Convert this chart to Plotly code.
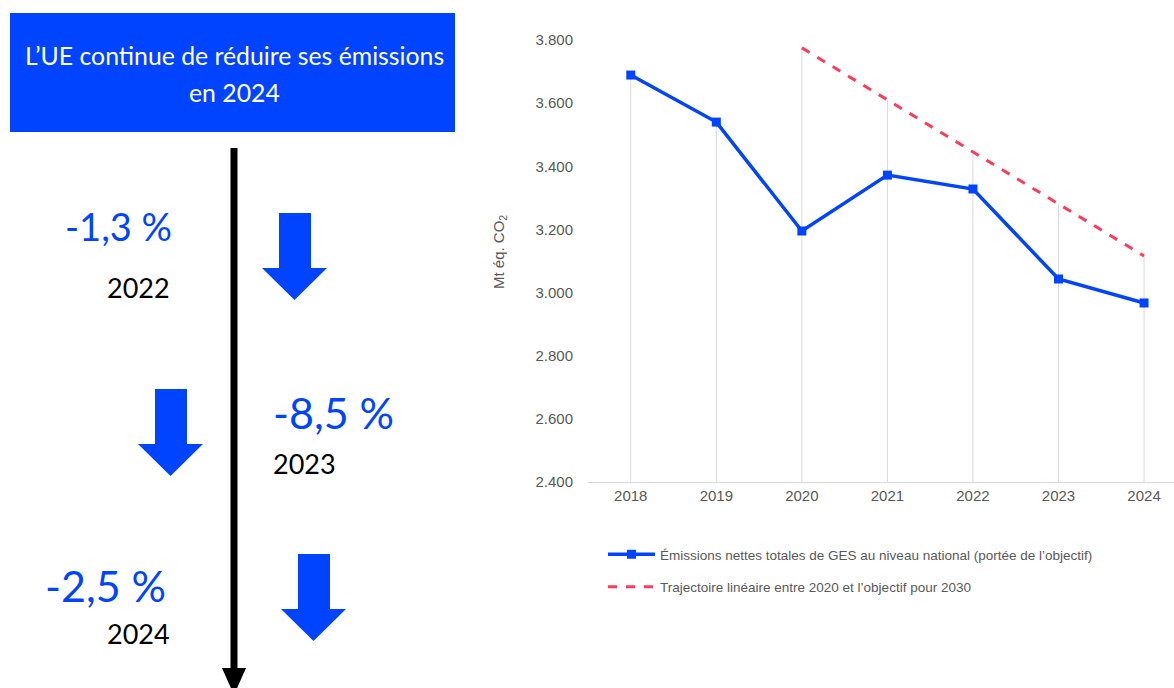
import plotly.graph_objects as go

# ---- data ----
years = ["2018", "2019", "2020", "2021", "2022", "2023", "2024"]
emissions = [3689, 3540, 3195, 3372, 3328, 3043, 2967]
trajectory_years = ["2020", "2021", "2022", "2023", "2024"]
trajectory = [3775, 3610, 3446, 3281, 3116]
y_ticks = [2400, 2600, 2800, 3000, 3200, 3400, 3600, 3800]
y_tick_labels = ["2.400", "2.600", "2.800", "3.000", "3.200", "3.400", "3.600", "3.800"]
pct_labels = ["-1,3 %", "-8,5 %", "-2,5 %"]
pct_years = ["2022", "2023", "2024"]
title_lines = ["L’UE continue de réduire ses émissions", "en 2024"]
name_emissions = "Émissions nettes totales de GES au niveau national (portée de l’objectif)"
name_traj = "Trajectoire linéaire entre 2020 et l’objectif pour 2030"
y_title = "Mt éq. CO<sub>2</sub>"

W, H = 1174, 688
BLUE = "#0044FF"


def px(x):
    return x / W


def py(y):
    return 1 - y / H


fig = go.Figure()

# drop lines from axis to highest series value per year
traj_map = dict(zip(trajectory_years, trajectory))
dx, dy = [], []
for yr, v in zip(years, emissions):
    top = max(v, traj_map.get(yr, v))
    dx += [yr, yr, None]
    dy += [y_ticks[0], top, None]
fig.add_trace(go.Scatter(x=dx, y=dy, mode="lines", line=dict(color="#d9d9d9", width=1),
                         showlegend=False, hoverinfo="skip"))

fig.add_trace(go.Scatter(x=years, y=emissions, mode="lines+markers", name=name_emissions,
                         legendgroup="a",
                         line=dict(color=BLUE, width=3.5),
                         marker=dict(symbol="square", size=9, color=BLUE)))
fig.add_trace(go.Scatter(x=trajectory_years, y=trajectory, mode="lines", name=name_traj,
                         legendgroup="b",
                         line=dict(color="#FF3B5C", width=3, dash="dash")))

shapes = []
annotations = []

# title box
shapes.append(dict(type="rect", xref="paper", yref="paper", x0=px(10), x1=px(455), y0=py(132), y1=py(13),
                   fillcolor=BLUE, line=dict(width=0), layer="below"))
for line_txt, yy in zip(title_lines, [55, 92]):
    annotations.append(dict(xref="paper", yref="paper", x=px(234), y=py(yy), text=line_txt, showarrow=False,
                            font=dict(family="Lato", size=24.8, color="white"), align="center",
                            xanchor="center", yanchor="middle"))

# black timeline arrow
shapes.append(dict(type="line", xref="paper", yref="paper", x0=px(234), x1=px(234), y0=py(148), y1=py(672),
                   line=dict(color="black", width=7)))
shapes.append(dict(type="path", xref="paper", yref="paper",
                   path=f"M {px(222)} {py(668)} L {px(246)} {py(668)} L {px(234)} {py(695)} Z",
                   fillcolor="black", line=dict(width=0)))


def block_arrow(x_left, y_top):
    # shaft 32 wide, head 65 wide, total height 87
    sx0, sx1 = x_left + 17, x_left + 49
    hx0, hx1 = x_left, x_left + 65
    ys, yt = y_top + 55, y_top + 87
    cx = x_left + 32.5
    pts = [(sx0, y_top), (sx1, y_top), (sx1, ys), (hx1, ys), (cx, yt), (hx0, ys), (sx0, ys)]
    p = "M " + " L ".join(f"{px(a)} {py(b)}" for a, b in pts) + " Z"
    return dict(type="path", xref="paper", yref="paper", path=p, fillcolor=BLUE, line=dict(width=0))


shapes.append(block_arrow(262, 213))
shapes.append(block_arrow(138, 389))
shapes.append(block_arrow(281, 554))

# percentage labels
pct_pos = [(174, 226, "right", 38), (271, 413, "left", 43), (168, 585, "right", 43)]
yr_pos = [(172, 287, "right"), (271, 463, "left"), (172, 633, "right")]
for lab, (x, y, anc, sz) in zip(pct_labels, pct_pos):
    annotations.append(dict(xref="paper", yref="paper", x=px(x), y=py(y), text=lab, showarrow=False,
                            font=dict(family="Lato", size=sz, color=BLUE),
                            xanchor=anc, yanchor="middle"))
for lab, (x, y, anc) in zip(pct_years, yr_pos):
    annotations.append(dict(xref="paper", yref="paper", x=px(x), y=py(y), text=lab, showarrow=False,
                            font=dict(family="Lato", size=27, color="black"),
                            xanchor=anc, yanchor="middle"))

# y-axis title
annotations.append(dict(xref="paper", yref="paper", x=px(499), y=py(252), text=y_title, showarrow=False,
                        textangle=-90, font=dict(family="Liberation Sans", size=15, color="#595959"),
                        xanchor="center", yanchor="middle"))

fig.update_layout(
    width=W, height=H,
    margin=dict(l=0, r=0, t=0, b=0, autoexpand=False),
    paper_bgcolor="white", plot_bgcolor="white",
    shapes=shapes, annotations=annotations,
    font=dict(family="Liberation Sans", color="#595959"),
    xaxis=dict(domain=[px(588), 1], type="category", categoryorder="array", categoryarray=years,
               range=[-0.5, 6.35], showgrid=False, showline=True, linecolor="#d9d9d9", linewidth=1,
               ticks="", tickfont=dict(size=15, color="#595959"), zeroline=False, automargin=False),
    yaxis=dict(domain=[py(482), py(40)], range=[2400, 3800], tickvals=y_ticks, ticktext=y_tick_labels,
               showgrid=False, zeroline=False, showline=False, ticks="", automargin=False,
               tickfont=dict(size=15, color="#595959"), ticklabelstandoff=14),
    legend=dict(x=px(603), y=py(539), xanchor="left", yanchor="top",
                font=dict(family="Liberation Sans", size=13.5, color="#595959"),
                bgcolor="rgba(0,0,0,0)", tracegroupgap=12, itemwidth=47),
    showlegend=True,
)

fig.write_html("out.html", config={"displayModeBar": False},
               post_script="document.body.style.margin='0';document.body.style.overflow='hidden';")
